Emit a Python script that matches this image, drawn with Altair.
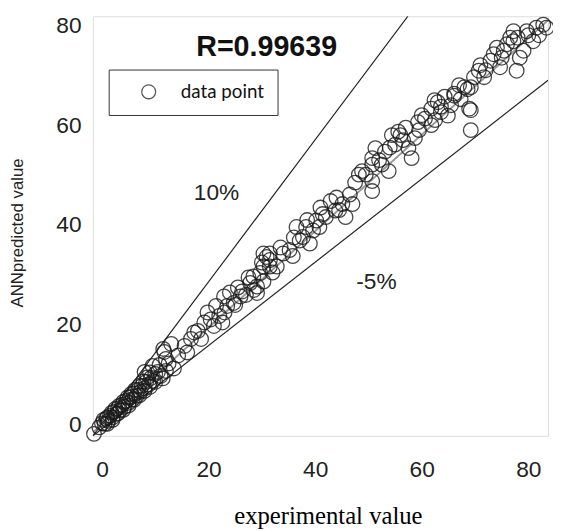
import altair as alt
import pandas as pd

exp_x = [
    -1.5, -0.5, 0.0, 0.5, 0.8, 1.2, 1.5, 2.0, 2.3, 2.7, 3.0, 3.4, 3.8, 4.2, 4.5, 5.0, 5.3, 5.7,
    6.0, 6.5, 6.8, 7.2, 7.5, 8.0, 8.3, 8.8, 9.2, 9.6, 10.0,
    0.3, 1.0, 1.8, 2.5, 3.2, 4.0, 4.8, 5.5, 6.2, 7.0, 7.8, 8.5, 9.0, 1.0, 2.0, 3.0, 4.0, 5.0,
    6.0, 7.0, 8.0, 9.0, 10.0, 11.0, 12.0, 10.8, 9.5, 12.5,
    8.0, 11.7, 12.0, 13.5, 11.4, 10.5, 13.0,
    11.5, 14.3, 17.3, 18.6, 16.7, 19.2, 20.4, 21.0, 22.0, 22.6, 21.4, 23.5, 22.9, 24.7, 26.0,
    26.3, 27.8, 28.4, 29.1, 29.7, 30.3, 30.9, 31.5, 31.5, 29.1, 19.8, 18.0,
    15.5, 16.0, 25.5, 27.0, 33.5, 35.8,
    23.0, 24.0, 25.0, 27.5, 28.5, 30.0, 32.0,
    30.3, 31.5, 30.3, 32.8, 35.2, 37.1, 36.5, 38.3, 37.7, 39.6, 40.2, 41.4, 40.8, 42.9, 43.8,
    45.1, 45.7, 46.5, 47.0, 48.2, 49.5, 50.7, 50.7, 42.0, 34.0, 39.0,
    36.0, 38.5, 41.0, 44.0, 44.5, 47.5,
    48.8, 50.7, 50.7, 52.5, 53.1, 54.4, 55.6, 58.1, 57.5, 58.7, 59.3, 60.6, 61.8, 61.8, 63.6,
    63.0, 64.9, 66.1, 67.3, 68.6, 68.9, 69.2, 51.3, 55.0, 53.8, 56.5,
    52.0, 54.0, 56.0, 57.0, 59.5, 60.0, 62.5, 65.5, 67.0,
    62.4, 64.3, 66.1, 68.0, 69.2, 69.8, 70.7, 71.7, 72.9, 73.5, 74.7, 75.4, 76.6, 77.2, 77.8,
    78.4, 79.1, 79.7, 80.9, 81.5, 82.8, 83.4, 76.0, 74.1, 77.2, 69.2, 63.6,
    71.0, 72.0, 75.0, 78.0, 80.0, 82.0,
]
ann_y = [
    -1.8, -0.5, 0.3, 0.2, 1.2, 0.8, 1.8, 1.5, 2.6, 2.2, 3.3, 2.9, 4.0, 3.6, 4.8, 4.4, 5.6, 5.1,
    6.3, 5.8, 7.0, 6.6, 7.8, 7.3, 8.6, 8.1, 9.4, 8.8, 10.2,
    1.0, 1.5, 2.4, 3.2, 3.8, 4.6, 5.5, 6.2, 7.0, 7.8, 8.7, 9.5, 10.5, 0.2, 1.0, 2.3, 3.0, 3.9,
    5.0, 5.9, 6.8, 7.6, 8.6, 9.8, 10.8, 12.0, 11.8, 12.3,
    10.6, 14.6, 13.2, 11.3, 9.3, 10.6, 16.2,
    15.2, 13.9, 18.5, 17.2, 17.2, 20.5, 21.1, 19.8, 21.8, 20.5, 23.8, 23.8, 25.7, 24.4, 25.7,
    26.7, 28.4, 29.7, 27.7, 30.4, 28.7, 33.6, 31.7, 34.3, 26.4, 22.5, 18.8,
    15.8, 14.5, 27.5, 26.0, 35.5, 33.8,
    22.5, 26.5, 24.0, 29.5, 27.0, 32.5, 30.5,
    34.3, 33.0, 31.7, 31.7, 35.0, 36.9, 39.6, 39.6, 37.6, 38.9, 40.9, 42.2, 39.6, 44.8, 42.9,
    44.2, 41.6, 46.1, 44.2, 50.1, 50.1, 46.8, 52.1, 41.6, 34.3, 36.3,
    37.5, 41.0, 43.5, 45.5, 43.0, 48.5,
    50.8, 48.8, 53.4, 52.1, 54.7, 58.0, 58.7, 53.4, 55.4, 57.4, 60.6, 61.3, 60.0, 63.3, 62.6,
    64.6, 61.9, 65.9, 65.2, 67.2, 63.3, 59.0, 55.4, 56.1, 50.8, 57.0,
    53.0, 55.5, 58.0, 59.5, 59.0, 62.0, 61.0, 64.0, 68.0,
    65.0, 65.7, 66.3, 67.6, 63.0, 69.6, 70.9, 69.6, 72.9, 74.2, 71.6, 74.9, 77.5, 76.8, 70.9,
    73.5, 74.9, 78.8, 76.8, 79.5, 80.1, 79.5, 76.2, 75.5, 78.8, 67.6, 63.7,
    72.0, 71.0, 73.5, 77.5, 78.0, 78.0,
]

# reference lines (end points)
line_name = ["upper", "upper", "fit", "fit", "lower", "lower"]
line_x = [-1.7, 57.4, -1.7, 83.7, -1.7, 83.7]
line_y = [-2.2, 81.8, -1.5, 81.0, -2.2, 69.0]

tick_values = [0, 20, 40, 60, 80]

r_label = ["R=0.99639"]
pct_labels = ["10%", "-5%"]

pts = pd.DataFrame({"x": exp_x, "y": ann_y, "series": "data point"})
lines = pd.DataFrame({"name": line_name, "x": line_x, "y": line_y})
r_df = pd.DataFrame({"t": r_label, "x": [30.9], "y": [75.7]})
pct_df = pd.DataFrame({"t": pct_labels, "x": [21.5, 51.5], "y": [46.4, 28.6]})

xs = alt.Scale(domain=[-1.7, 83.7], nice=False, zero=False)
ys = alt.Scale(domain=[-2.2, 81.8], nice=False, zero=False)

x_axis = alt.Axis(values=tick_values, grid=False, ticks=False, tickSize=0, domain=False,
                  labelFont="Liberation Sans", labelFontSize=23, labelColor="#222",
                  labelPadding=23, labelBaseline="top",
                  title="experimental value", titleFont="Liberation Serif", titleFontSize=25,
                  titleFontWeight="normal", titleColor="#000", titleX=238, titleY=81,
                  titleBaseline="middle", titleAlign="center")
y_axis = alt.Axis(values=tick_values, grid=False, ticks=False, tickSize=0, domain=False,
                  labelFont="Liberation Sans", labelFontSize=23, labelColor="#222",
                  labelPadding=12,
                  title="ANNpredicted value", titleFont="Liberation Sans", titleFontSize=17,
                  titleFontWeight="normal", titleColor="#222", titleX=-76, titleY=219,
                  titleAngle=270, titleBaseline="middle", titleAlign="center")

black_lines = alt.Chart(lines[lines["name"] != "fit"]).mark_line(
    clip=True, color="#222", strokeWidth=1.2
).encode(x=alt.X("x:Q", scale=xs, axis=x_axis), y=alt.Y("y:Q", scale=ys, axis=y_axis),
         detail="name:N")

fit_line = alt.Chart(lines[lines["name"] == "fit"]).mark_line(
    clip=True, color="#999", strokeWidth=2
).encode(x=alt.X("x:Q", scale=xs), y=alt.Y("y:Q", scale=ys))

points = alt.Chart(pts).mark_point(
    shape="circle", filled=False, size=220, strokeWidth=1.3, opacity=0.8, color="#1a1a1a"
).encode(
    x=alt.X("x:Q", scale=xs),
    y=alt.Y("y:Q", scale=ys),
    shape=alt.Shape("series:N", scale=alt.Scale(range=["circle"]),
                    legend=alt.Legend(title=None, orient="none", legendX=16, legendY=54,
                                      padding=13, strokeColor="#333", fillColor="white",
                                      labelFont="Lato", labelFontSize=19, labelColor="#111",
                                      symbolSize=200, symbolStrokeColor="#333",
                                      symbolFillColor="transparent", symbolStrokeWidth=1.3,
                                      symbolOffset=18, labelOffset=23)),
)

r_text = alt.Chart(r_df).mark_text(
    font="Liberation Sans", fontSize=29, fontWeight="bold", color="#111"
).encode(x=alt.X("x:Q", scale=xs), y=alt.Y("y:Q", scale=ys), text="t:N")

pct_text = alt.Chart(pct_df).mark_text(
    font="Liberation Sans", fontSize=23, color="#222"
).encode(x=alt.X("x:Q", scale=xs), y=alt.Y("y:Q", scale=ys), text="t:N")

chart = alt.layer(black_lines, fit_line, points, r_text, pct_text).properties(
    width=461, height=425,
    autosize=alt.AutoSizeParams(type="none"),
    padding={"left": 86, "top": 5, "right": 5, "bottom": 92},
).configure_view(stroke="#555", strokeWidth=1.2).configure(background="white")

chart.save("out.html", embed_options={"renderer": "svg", "actions": False})
